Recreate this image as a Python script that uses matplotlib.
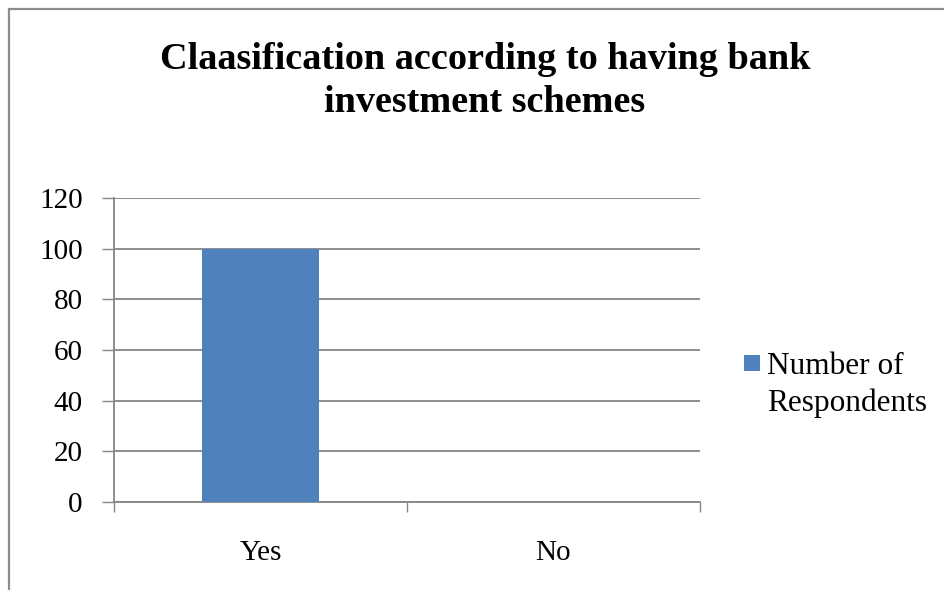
import matplotlib
matplotlib.use("Agg")
import matplotlib.pyplot as plt
from matplotlib.patches import Rectangle

categories = ["Yes", "No"]
respondents = [100, 0]
series_name = "Number of\nRespondents"
title = "Claasification according to having bank\ninvestment schemes"
yticks = [0, 20, 40, 60, 80, 100, 120]

BLUE = "#4F81BD"
GRID = "#868686"
W, H = 944, 590

plt.rcParams["font.family"] = ["Liberation Serif", "DejaVu Serif"]

fig = plt.figure(figsize=(W / 100, H / 100), dpi=100)

# chart border (only top and left edges fall inside the canvas)
fig.patches.append(Rectangle((8.5 / W, -0.1), 1.2, 1.1 - 9.5 / H,
                             transform=fig.transFigure, fill=False,
                             edgecolor="#8c8c8c", linewidth=1.6))

ax = fig.add_axes([114 / W, 88 / H, 586 / W, 304 / H])
x = range(len(categories))
bars = ax.bar(x, respondents, width=0.40, color=BLUE, zorder=3)

ax.set_xlim(-0.5, len(categories) - 0.5)
ax.set_ylim(0, 120)
ax.set_yticks(yticks)
ax.yaxis.grid(True, color=GRID, linewidth=1.3, zorder=0)
ax.tick_params(axis="y", length=8.5, width=1.0, color=GRID, pad=14,
               labelsize=21)

ax.set_xticks(list(x))
ax.set_xticklabels(categories)
ax.set_xticks([i - 0.5 for i in range(len(categories) + 1)], minor=True)
ax.tick_params(axis="x", which="major", length=0, pad=27, labelsize=21)
ax.tick_params(axis="x", which="minor", length=7.5, width=1.0, color=GRID)

for side in ("top", "right"):
    ax.spines[side].set_visible(False)
for side in ("left", "bottom"):
    ax.spines[side].set_color(GRID)
    ax.spines[side].set_linewidth(1.3)

fig.text(485 / W, 1 - 81 / H, title, ha="center", va="center",
         fontsize=27.5, fontweight="bold", linespacing=1.27)

# legend: swatch aligned with the first text line
fig.patches.append(Rectangle((744 / W, 1 - 371 / H), 16 / W, 16 / H,
                             transform=fig.transFigure,
                             facecolor=bars[0].get_facecolor(),
                             edgecolor="none"))
fig.text(767 / W, 1 - 352 / H, series_name, ha="left", va="top",
         fontsize=22.5, linespacing=1.32)

fig.savefig("out.png", dpi=100)
